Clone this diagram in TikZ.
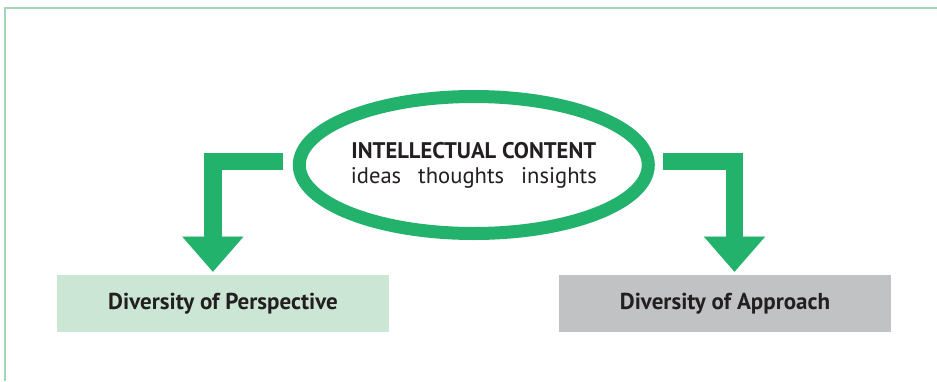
\documentclass[tikz,border=0pt]{standalone}
\usepackage{fontspec}
\setmainfont{PT Sans}
\usetikzlibrary{shapes.geometric,arrows.meta}

\definecolor{flowgreen}{RGB}{34,178,108}
\definecolor{framegreen}{RGB}{160,215,180}
\definecolor{perspfill}{RGB}{204,230,213}
\definecolor{approachfill}{RGB}{193,194,196}
\definecolor{inktext}{RGB}{35,31,32}

\tikzset{
  framerule/.style={draw=framegreen, line width=2pt},
  hub/.style={ellipse, draw=flowgreen, line width=13pt, inner sep=0pt,
    minimum width=349pt, minimum height=137pt, align=center,
    text=inktext, font=\fontsize{22.6}{25}\selectfont},
  outcome/.style={rectangle, inner sep=0pt, minimum width=332pt,
    minimum height=56.7pt, text=inktext,
    font=\fontsize{23}{26}\selectfont\bfseries},
  flow/.style={draw=flowgreen, line width=17.4pt, line join=miter,
    -{Triangle[width=61pt,length=35pt,line width=0.01pt]}}
}

\begin{document}
\begin{tikzpicture}[x=1pt,y=-1pt]
  \useasboundingbox (0,0) rectangle (937,381);

  % open frame along the top and left edges
  \draw[framerule] (5,381) -- (5,8) -- (937,8);

  % central idea
  \node[hub] (core) at (473.8,165)
    {\textbf{INTELLECTUAL CONTENT}\\ideas\hspace{0.75em}thoughts\hspace{0.75em}insights};

  % the two outcomes
  \node[outcome, fill=perspfill] (persp) at (223,303.3) {Diversity of Perspective};
  \node[outcome, fill=approachfill] (appr) at (725,303.3) {Diversity of Approach};

  % bent arrows from the idea down to the outcomes
  \coordinate (lstart) at (283,161.4);
  \coordinate (ltip) at (212.9,271.7);
  \coordinate (rstart) at (662.7,161.4);
  \coordinate (rtip) at (734.5,271.7);
  \draw[flow] (lstart) -| (ltip);
  \draw[flow] (rstart) -| (rtip);
\end{tikzpicture}
\end{document}
